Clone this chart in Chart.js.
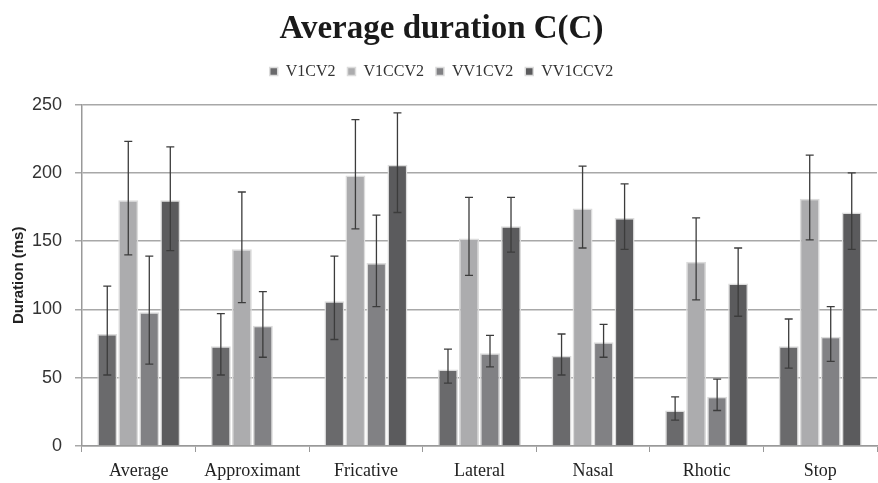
<!DOCTYPE html>
<html>
<head>
<meta charset="utf-8">
<script src="https://cdn.jsdelivr.net/npm/chart.js@4.4.0/dist/chart.umd.min.js"></script>
<style>
  body { margin: 0; background: #fff; }
  #wrap { width: 878px; height: 483px; position: relative; }
</style>
</head>
<body>
<div id="wrap"><canvas id="myChart"></canvas></div>
<script>
// данные
const categories = ['Average', 'Approximant', 'Fricative', 'Lateral', 'Nasal', 'Rhotic', 'Stop'];
const seriesNames = ['V1CV2', 'V1CCV2', 'VV1CV2', 'VV1CCV2'];

const v1cv2   = [82, 73, 106, 56, 66, 26, 73];
const v1ccv2  = [180, 144, 198, 152, 174, 135, 181];
const vv1cv2  = [98, 88, 134, 68, 76, 36, 80];
const vv1ccv2 = [180, null, 206, 161, 167, 119, 171];

// нижняя и верхняя граница "усов"
const v1cv2Low    = [52, 52, 78, 46, 52, 19, 57];
const v1cv2High   = [117, 97, 139, 71, 82, 36, 93];
const v1ccv2Low   = [140, 105, 159, 125, 145, 107, 151];
const v1ccv2High  = [223, 186, 239, 182, 205, 167, 213];
const vv1cv2Low   = [60, 65, 102, 58, 65, 26, 62];
const vv1cv2High  = [139, 113, 169, 81, 89, 49, 102];
const vv1ccv2Low  = [143, null, 171, 142, 144, 95, 144];
const vv1ccv2High = [219, null, 244, 182, 192, 145, 200];

const colors = ['#6a6a6c', '#acacae', '#818184', '#5b5b5d'];
const lows = [v1cv2Low, v1ccv2Low, vv1cv2Low, vv1ccv2Low];
const highs = [v1cv2High, v1ccv2High, vv1cv2High, vv1ccv2High];
const values = [v1cv2, v1ccv2, vv1cv2, vv1ccv2];

// плагин для усов ошибок
const errorBars = {
  id: 'errorBars',
  afterDatasetsDraw(chart) {
    const ctx = chart.ctx;
    const y = chart.scales.y;
    ctx.save();
    ctx.strokeStyle = '#3c3c3c';
    ctx.lineWidth = 1.3;
    chart.data.datasets.forEach((ds, i) => {
      const meta = chart.getDatasetMeta(i);
      meta.data.forEach((bar, j) => {
        const lo = lows[i][j], hi = highs[i][j];
        if (lo == null || hi == null) return;
        const yl = y.getPixelForValue(lo);
        const yh = y.getPixelForValue(hi);
        ctx.beginPath();
        ctx.moveTo(bar.x, yl); ctx.lineTo(bar.x, yh);
        ctx.moveTo(bar.x - 4, yl); ctx.lineTo(bar.x + 4, yl);
        ctx.moveTo(bar.x - 4, yh); ctx.lineTo(bar.x + 4, yh);
        ctx.stroke();
      });
    });
    ctx.restore();
  }
};

// лишнее место под легендой
const legendGap = {
  id: 'legendGap',
  afterInit(chart) {
    const fit = chart.legend.fit;
    chart.legend.fit = function () {
      fit.bind(chart.legend)();
      this.height += 15;
    };
  }
};

const chart = new Chart(document.getElementById('myChart'), {
  type: 'bar',
  data: {
    labels: categories,
    datasets: seriesNames.map((name, i) => ({
      label: name,
      data: values[i],
      backgroundColor: colors[i],
      borderColor: '#dcdcdc',
      borderWidth: 1.5,
      categoryPercentage: 0.74,
      barPercentage: 0.95,
    })),
  },
  options: {
    responsive: true,
    maintainAspectRatio: false,
    animation: false,
    layout: { padding: { left: 6, right: 1, top: 4, bottom: 0 } },
    plugins: {
      title: {
        display: true,
        text: 'Average duration C(C)',
        color: '#1a1a1a',
        font: { family: 'Liberation Serif', size: 33, weight: 'bold' },
        padding: { top: 6, bottom: 2 },
      },
      legend: {
        labels: {
          boxWidth: 8,
          boxHeight: 8,
          color: '#333',
          padding: 12,
          font: { family: 'Liberation Serif', size: 16 },
        },
      },
      tooltip: { enabled: false },
    },
    scales: {
      x: {
        afterFit(scale) { scale.height = 37; },
        grid: { drawOnChartArea: false, color: '#999', tickLength: 6, offset: true },
        border: { color: '#999', width: 1.5 },
        ticks: { color: '#222', font: { family: 'Liberation Serif', size: 18 }, padding: 8 },
      },
      y: {
        min: 0,
        max: 250,
        afterFit(scale) { scale.width = 76; },
        ticks: { stepSize: 50, color: '#333', font: { family: 'Liberation Sans', size: 18 }, padding: 13 },
        grid: { color: '#a8a8a8', lineWidth: 1.5, tickLength: 7 },
        border: { color: '#999', width: 1.5 },
        title: {
          display: true,
          text: 'Duration (ms)',
          color: '#222',
          font: { family: 'Liberation Sans', size: 15, weight: 'bold' },
          padding: 4,
        },
      },
    },
  },
  plugins: [errorBars, legendGap],
});
</script>
</body>
</html>
